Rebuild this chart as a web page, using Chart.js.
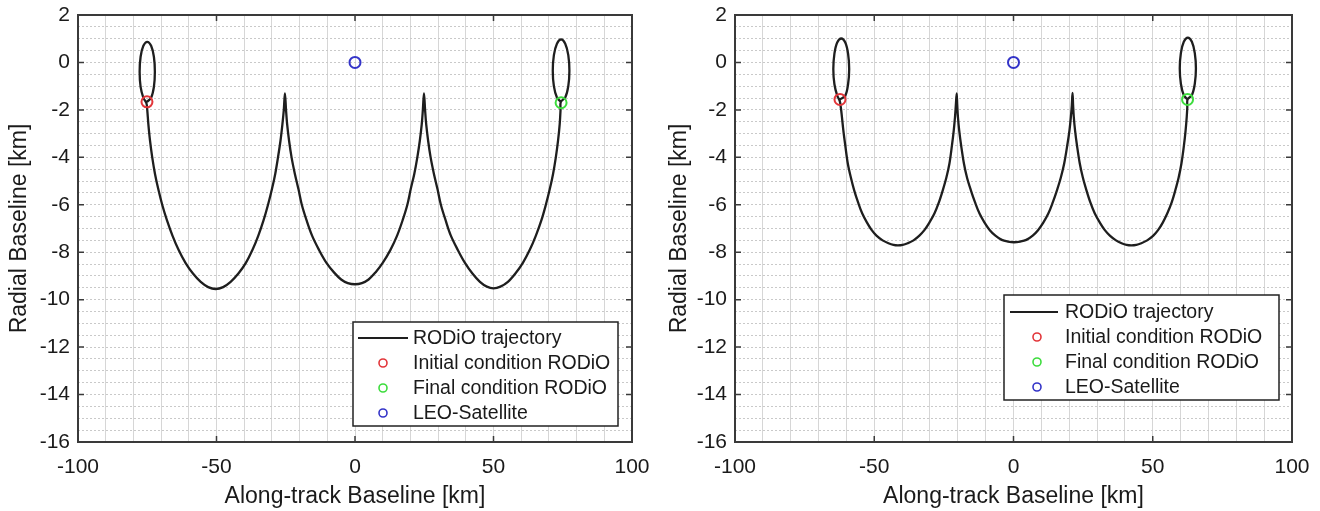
<!DOCTYPE html>
<html>
<head>
<meta charset="utf-8">
<script src="https://cdn.jsdelivr.net/npm/chart.js@4"></script>
<style>
  body { margin: 0; background: #fff; width: 1320px; height: 511px; overflow: hidden; position: relative; }
  canvas { position: absolute; top: 0; }
</style>
</head>
<body>
<canvas id="leftChart" width="660" height="511" style="left:0"></canvas>
<canvas id="rightChart" width="660" height="511" style="left:660px"></canvas>
<script>
// values, km
const xTicks = [-100, -50, 0, 50, 100];
const yTicks = [-16, -14, -12, -10, -8, -6, -4, -2, 0, 2];
const legendLabels = ['RODiO trajectory', 'Initial condition RODiO', 'Final condition RODiO', 'LEO-Satellite'];

const leftTrajX = [
  -75.1,-73.6,-72.6,-72.25,-72.6,-73.6,-75.0,-76.4,-77.4,-77.75,-77.4,-76.4,-75.3,
  -75.0,-74.6,-74.0,-73.2,-72.2,-71.0,-69.6,-67.9,-65.9,-63.7,-61.2,-58.5,-55.7,-53.0,-50.3,
  -47.6,-44.9,-42.1,-39.4,-37.0,-34.9,-33.0,-31.4,-30.0,-28.8,-27.8,-26.9,-26.2,-25.7,-25.3,
  -24.9,-24.5,-23.8,-22.9,-21.7,-20.4,-19.2,-17.5,-15.5,-13.0,-10.3,-7.6,-5.0,-2.6,0,
  2.5,4.9,7.4,10.0,12.8,15.2,17.2,18.9,20.1,21.4,22.5,23.4,24.1,24.5,24.9,
  25.3,25.7,26.4,27.3,28.5,29.8,31.0,32.7,34.6,37.1,39.7,42.4,45.1,47.6,50.0,
  52.5,55.2,57.9,60.6,63.1,65.3,67.3,68.9,70.3,71.5,72.5,73.3,73.9,74.2,74.3,
  75.9,77.0,77.4,77.0,75.9,74.4,72.9,71.8,71.4,71.8,72.9,74.3
];
const leftTrajY = [
  -1.66,-1.49,-1.03,-0.395,0.24,0.70,0.87,0.70,0.24,-0.395,-1.03,-1.49,-1.72,
  -2.0,-2.6,-3.3,-4.0,-4.7,-5.35,-6.0,-6.65,-7.3,-7.9,-8.45,-8.9,-9.25,-9.47,-9.55,
  -9.47,-9.25,-8.9,-8.45,-7.9,-7.3,-6.65,-6.0,-5.35,-4.7,-4.0,-3.3,-2.6,-2.0,-1.31,
  -2.0,-2.6,-3.3,-4.0,-4.7,-5.35,-6.0,-6.65,-7.3,-7.9,-8.45,-8.85,-9.15,-9.3,-9.35,
  -9.3,-9.15,-8.85,-8.45,-7.9,-7.3,-6.65,-6.0,-5.35,-4.7,-4.0,-3.3,-2.6,-2.0,-1.31,
  -2.0,-2.6,-3.3,-4.0,-4.7,-5.35,-6.0,-6.65,-7.3,-7.9,-8.45,-8.9,-9.25,-9.45,-9.52,
  -9.45,-9.25,-8.9,-8.45,-7.9,-7.3,-6.65,-6.0,-5.35,-4.7,-4.0,-3.3,-2.6,-2.0,-1.66,
  -1.48,-1.0,-0.345,0.31,0.79,0.97,0.79,0.31,-0.345,-1.0,-1.48,-1.66
];
const leftInitial = [-75.1, -1.66];
const leftFinal = [74.4, -1.7];

const rightTrajX = [
  -62.3,-60.4,-59.4,-59.0,-59.4,-60.4,-61.85,-63.3,-64.3,-64.7,-64.3,-63.3,-62.4,
  -62.0,-61.6,-61.1,-60.4,-59.5,-58.4,-57.2,-55.8,-54.3,-52.6,-50.9,-49.2,-47.0,-44.9,-43.1,-41.5,
  -39.8,-38.0,-35.9,-33.8,-32.0,-30.2,-28.4,-26.8,-25.4,-24.1,-23.0,-22.1,-21.45,-21.0,-20.7,-20.4,
  -20.2,-19.95,-19.5,-18.8,-17.8,-16.7,-15.3,-13.8,-12.2,-10.4,-8.5,-6.5,-4.2,-2.0,0.2,
  2.4,4.6,6.9,8.8,10.7,12.5,14.1,15.6,17.0,18.2,19.3,20.1,20.6,20.95,21.2,
  21.4,21.65,22.1,22.8,23.8,24.9,26.2,27.6,29.2,31.0,32.8,34.6,36.8,38.8,40.6,42.3,
  44.1,45.9,48.0,50.2,51.9,53.6,55.2,56.8,58.1,59.3,60.3,61.2,61.8,62.2,62.4,62.5,
  64.05,65.1,65.5,65.1,64.05,62.6,61.15,60.1,59.7,60.1,61.15,62.5
];
const rightTrajY = [
  -1.56,-1.4,-0.92,-0.28,0.37,0.84,1.01,0.84,0.37,-0.28,-0.92,-1.4,-1.62,
  -1.9,-2.3,-2.86,-3.5,-4.26,-4.85,-5.39,-5.9,-6.37,-6.75,-7.07,-7.3,-7.5,-7.62,-7.69,-7.71,
  -7.69,-7.62,-7.5,-7.3,-7.07,-6.75,-6.37,-5.9,-5.39,-4.85,-4.26,-3.5,-2.86,-2.3,-1.8,-1.31,
  -1.8,-2.3,-2.86,-3.5,-4.26,-4.85,-5.39,-5.9,-6.37,-6.75,-7.07,-7.3,-7.48,-7.55,-7.58,
  -7.55,-7.48,-7.3,-7.07,-6.75,-6.37,-5.9,-5.39,-4.85,-4.26,-3.5,-2.86,-2.3,-1.8,-1.28,
  -1.8,-2.3,-2.86,-3.5,-4.26,-4.85,-5.39,-5.9,-6.37,-6.75,-7.07,-7.3,-7.5,-7.62,-7.69,-7.71,
  -7.69,-7.62,-7.5,-7.3,-7.07,-6.75,-6.37,-5.9,-5.39,-4.85,-4.26,-3.5,-2.86,-2.3,-1.9,-1.56,
  -1.38,-0.9,-0.255,0.395,0.87,1.05,0.87,0.395,-0.255,-0.9,-1.38,-1.56
];
const rightInitial = [-62.3, -1.56];
const rightFinal = [62.5, -1.56];

const satellite = [0, 0];

const FONT = 'Arial, "Liberation Sans", sans-serif';
const TEXT = '#1a1a1a';

function pts(xs, ys) {
  return xs.map((x, i) => ({x: x, y: ys[i]}));
}

// MATLAB style box, inner ticks and legend
const matlabFrame = {
  id: 'matlabFrame',
  afterDraw(chart, args, o) {
    const ctx = chart.ctx, a = chart.chartArea;
    const xs = chart.scales.x, ys = chart.scales.y;
    ctx.save();
    ctx.strokeStyle = '#3a3a3a';
    ctx.lineWidth = 1.5;
    ctx.beginPath();
    xTicks.forEach(v => {
      const px = xs.getPixelForValue(v);
      ctx.moveTo(px, a.bottom); ctx.lineTo(px, a.bottom - 6);
      ctx.moveTo(px, a.top); ctx.lineTo(px, a.top + 6);
    });
    yTicks.forEach(v => {
      const py = ys.getPixelForValue(v);
      ctx.moveTo(a.left, py); ctx.lineTo(a.left + 6, py);
      ctx.moveTo(a.right, py); ctx.lineTo(a.right - 6, py);
    });
    ctx.stroke();
    ctx.lineWidth = 2;
    ctx.strokeRect(a.left, a.top, a.right - a.left, a.bottom - a.top);

    const lg = o.legend;
    const bx = a.left + lg.x, by = a.top + lg.y;
    ctx.fillStyle = '#fff';
    ctx.fillRect(bx, by, lg.w, lg.h);
    ctx.strokeStyle = '#222';
    ctx.lineWidth = 1.5;
    ctx.strokeRect(bx, by, lg.w, lg.h);
    ctx.font = '19.5px ' + FONT;
    ctx.textBaseline = 'middle';
    chart.data.datasets.forEach((ds, i) => {
      const cy = by + lg.row0 + i * lg.gap;
      ctx.strokeStyle = ds.borderColor;
      ctx.beginPath();
      if (ds.showLine) {
        ctx.lineWidth = 2;
        ctx.moveTo(bx + lg.line0, cy); ctx.lineTo(bx + lg.line1, cy);
      } else {
        ctx.lineWidth = 1.6;
        ctx.arc(bx + lg.mark, cy, 4, 0, Math.PI * 2);
      }
      ctx.stroke();
      ctx.fillStyle = TEXT;
      ctx.fillText(ds.label, bx + lg.text, cy + 1);
    });
    ctx.restore();
  }
};

function makeChart(id, trajX, trajY, initPt, finalPt, yWidth, legendBox) {
  const marker = (label, p, color) => ({
    label: label,
    data: [{x: p[0], y: p[1]}],
    showLine: false,
    pointRadius: 5.5,
    pointBorderWidth: 2,
    borderColor: color,
    pointBorderColor: color,
    pointBackgroundColor: 'rgba(0,0,0,0)',
    order: 0
  });
  return new Chart(document.getElementById(id), {
    type: 'scatter',
    data: {
      datasets: [
        {
          label: legendLabels[0],
          data: pts(trajX, trajY),
          showLine: true,
          borderColor: '#1e1e1e',
          borderWidth: 2.3,
          pointRadius: 0,
          tension: 0.35,
          order: 1
        },
        marker(legendLabels[1], initPt, '#e2363a'),
        marker(legendLabels[2], finalPt, '#3ddc3d'),
        marker(legendLabels[3], satellite, '#3434c8')
      ]
    },
    options: {
      responsive: false,
      animation: false,
      layout: { padding: { left: 0, top: 15, right: 28, bottom: 0 } },
      plugins: {
        legend: { display: false },
        tooltip: { enabled: false },
        matlabFrame: { legend: legendBox }
      },
      scales: {
        x: {
          type: 'linear',
          min: xTicks[0],
          max: xTicks[xTicks.length - 1],
          afterFit: s => { s.height = 69; s.paddingLeft = 0; s.paddingRight = 0; },
          grid: { color: '#d6d6d6', lineWidth: 1, drawTicks: false },
          border: { display: false },
          ticks: {
            stepSize: 10,
            autoSkip: false,
            maxRotation: 0,
            padding: 13,
            color: TEXT,
            font: { family: FONT, size: 21 },
            callback: v => (xTicks.includes(v) ? String(v) : '')
          },
          title: {
            display: true,
            text: 'Along-track Baseline [km]',
            color: TEXT,
            font: { family: FONT, size: 23 },
            padding: { top: 0, bottom: 1 }
          }
        },
        y: {
          type: 'linear',
          min: yTicks[0],
          max: yTicks[yTicks.length - 1],
          afterFit: s => { s.width = yWidth; s.paddingTop = 0; s.paddingBottom = 0; },
          grid: { color: '#c9c9c9', lineWidth: 1, drawTicks: false },
          border: { display: false, dash: [2, 2] },
          ticks: {
            stepSize: 0.5,
            autoSkip: false,
            padding: 8,
            color: TEXT,
            font: { family: FONT, size: 21 },
            callback: v => (yTicks.includes(v) ? String(v) : '')
          },
          title: {
            display: true,
            text: 'Radial Baseline [km]',
            color: TEXT,
            font: { family: FONT, size: 23 },
            padding: { top: 6, bottom: 0 }
          }
        }
      }
    },
    plugins: [matlabFrame]
  });
}

makeChart('leftChart', leftTrajX, leftTrajY, leftInitial, leftFinal, 78,
  { x: 275, y: 307, w: 265, h: 104, row0: 16, gap: 25, line0: 5, line1: 55, mark: 30, text: 60 });
makeChart('rightChart', rightTrajX, rightTrajY, rightInitial, rightFinal, 75,
  { x: 269, y: 280, w: 275, h: 105, row0: 17, gap: 25, line0: 6, line1: 54, mark: 33, text: 61 });
</script>
</body>
</html>
